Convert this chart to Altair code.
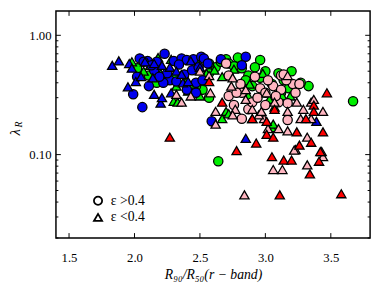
import altair as alt
import pandas as pd

# ---- data ----
blue_circ_x = [2.04, 2.10, 2.17, 2.23, 2.30, 2.36, 2.40, 2.45, 2.51, 2.53, 2.66, 2.85, 2.82,
               1.99, 2.06, 2.11, 2.59, 2.47, 2.27, 2.02, 2.15, 2.22, 2.32, 2.38, 2.44, 2.49,
               2.47, 2.40, 2.52, 2.25, 2.19, 2.07, 2.13, 2.34, 2.56]
blue_circ_y = [0.64, 0.61, 0.60, 0.70, 0.61, 0.64, 0.62, 0.63, 0.66, 0.64, 0.63, 0.66, 0.56,
               0.32, 0.25, 0.375, 0.19, 0.33, 0.42, 0.45, 0.51, 0.40, 0.41, 0.47, 0.51, 0.54,
               0.40, 0.35, 0.42, 0.48, 0.45, 0.60, 0.56, 0.57, 0.58]
blue_tri_x = [1.83, 1.88, 1.96, 1.98, 1.95, 2.01, 2.05, 2.14, 2.15, 2.20, 2.21, 2.27, 2.21,
              2.32, 2.36, 2.37, 2.41, 2.28, 2.85, 3.39, 2.43, 2.50, 2.15, 2.08]
blue_tri_y = [0.56, 0.61, 0.58, 0.53, 0.37, 0.41, 0.45, 0.44, 0.32, 0.27, 0.30, 0.54, 0.56,
              0.50, 0.47, 0.40, 0.41, 0.33, 0.137, 0.19, 0.61, 0.54, 0.58, 0.60]
green_circ_x = [2.64, 3.67, 2.96, 2.79, 2.70, 3.33, 3.14, 3.00, 2.92, 2.87, 2.72, 2.62, 2.57,
                2.52, 2.57, 3.05, 3.20, 3.12, 2.02, 2.11, 2.17, 2.47, 2.82, 3.10, 2.90, 2.57,
                2.85, 2.96, 3.18, 2.76, 2.66, 2.30, 3.27]
green_circ_y = [0.088, 0.28, 0.62, 0.65, 0.63, 0.375, 0.42, 0.50, 0.54, 0.46, 0.58, 0.54, 0.48,
                0.35, 0.30, 0.39, 0.50, 0.33, 0.53, 0.46, 0.40, 0.375, 0.53, 0.48, 0.375, 0.58,
                0.42, 0.44, 0.36, 0.55, 0.60, 0.44, 0.40]
green_tri_x = [2.18, 2.28, 2.47, 1.98, 2.07, 2.20, 2.30, 2.33, 2.41, 2.50, 2.55, 2.61, 2.67,
               2.76, 2.98, 3.13, 3.19, 2.92, 3.03, 2.70, 2.67, 2.90, 3.05, 3.07, 2.88, 2.87,
               3.06, 2.40, 2.32, 2.25, 2.45, 2.72, 2.12]
green_tri_y = [0.65, 0.63, 0.62, 0.60, 0.50, 0.48, 0.28, 0.275, 0.34, 0.31, 0.48, 0.51, 0.45,
               0.52, 0.48, 0.31, 0.31, 0.30, 0.29, 0.23, 0.20, 0.20, 0.168, 0.25, 0.39, 0.31,
               0.18, 0.42, 0.375, 0.44, 0.39, 0.22, 0.56]
pink_circ_x = [2.72, 2.81, 2.72, 2.76, 2.82, 2.87, 2.96, 3.00, 3.06, 3.12, 3.17, 3.21, 3.26,
               3.23, 3.17, 3.12, 3.10, 2.90, 2.82, 3.00, 3.16, 3.02, 2.92, 2.78, 2.70, 3.14,
               2.94, 3.08]
pink_circ_y = [0.46, 0.39, 0.31, 0.26, 0.20, 0.24, 0.36, 0.26, 0.375, 0.46, 0.27, 0.39, 0.39,
               0.33, 0.195, 0.35, 0.275, 0.275, 0.33, 0.33, 0.42, 0.42, 0.45, 0.33, 0.58, 0.47,
               0.30, 0.31]
pink_tri_x = [2.85, 2.84, 3.06, 3.13, 3.32, 3.44, 3.23, 3.43, 3.32, 3.22, 3.02, 3.10, 3.17,
              3.35, 3.27, 3.44, 3.17, 3.24, 3.35, 3.37, 3.07, 2.99, 2.95, 2.90, 2.77, 2.62,
              2.62, 2.75, 2.75, 3.17, 2.57, 2.50, 2.58, 2.43, 2.32, 2.36, 2.97, 2.74, 2.85,
              3.29, 3.01]
pink_tri_y = [0.29, 0.046, 0.075, 0.075, 0.082, 0.096, 0.11, 0.106, 0.14, 0.109, 0.165, 0.165,
              0.158, 0.20, 0.20, 0.23, 0.23, 0.275, 0.275, 0.29, 0.275, 0.20, 0.215, 0.24, 0.24,
              0.18, 0.23, 0.44, 0.215, 0.46, 0.46, 0.50, 0.33, 0.31, 0.32, 0.275, 0.23, 0.375,
              0.35, 0.24, 0.33]
red_tri_x = [2.27, 2.57, 2.67, 2.90, 2.93, 2.78, 3.01, 3.07, 3.01, 3.06, 3.11, 3.05, 3.14,
             3.20, 3.24, 3.26, 3.31, 3.37, 3.47, 3.44, 3.35, 3.42, 3.41, 3.34, 3.58, 3.37]
red_tri_y = [0.14, 0.41, 0.275, 0.20, 0.125, 0.108, 0.19, 0.24, 0.148, 0.14, 0.046, 0.096,
             0.09, 0.09, 0.155, 0.12, 0.20, 0.26, 0.33, 0.155, 0.127, 0.106, 0.088, 0.069,
             0.047, 0.23]

legend_labels = ["ε >0.4", "ε <0.4"]
group_colors = {"green": "#00ee00", "blue": "#0000ee", "pink": "#ffb6c1", "red": "#ff0000"}

x_ticks = [1.5, 2.0, 2.5, 3.0, 3.5]
y_major = [0.1, 1.0]
y_minor = [0.02, 0.03, 0.04, 0.05, 0.06, 0.07, 0.08, 0.09,
           0.2, 0.3, 0.4, 0.5, 0.6, 0.7, 0.8, 0.9]

# ---- build table ----
rows = []
def add(xs, ys, grp, eps):
    for a, b in zip(xs, ys):
        rows.append({"x": a, "y": b, "grp": grp, "eps": eps})

add(green_circ_x, green_circ_y, "green", legend_labels[0])
add(green_tri_x, green_tri_y, "green", legend_labels[1])
add(blue_circ_x, blue_circ_y, "blue", legend_labels[0])
add(blue_tri_x, blue_tri_y, "blue", legend_labels[1])
add(pink_circ_x, pink_circ_y, "pink", legend_labels[0])
add(pink_tri_x, pink_tri_y, "pink", legend_labels[1])
add(red_tri_x, red_tri_y, "red", legend_labels[1])
df = pd.DataFrame(rows)

W, H = 321, 232
FONT = "Liberation Serif"

xs = alt.Scale(domain=[1.4, 3.8], nice=False, zero=False)
ys = alt.Scale(type="log", domain=[0.02, 1.6], nice=False)
xaxis = alt.Axis(values=x_ticks, format=".1f", title="R₉₀/R₅₀(r − band)", grid=False,
                 domain=False, ticks=False, labelPadding=14, titlePadding=3,
                 titleFontStyle="italic", titleFontWeight="normal")
yaxis = alt.Axis(values=y_major, format=".2f", title=None, grid=False,
                 domain=False, ticks=False, labelPadding=5)

points = alt.Chart(df).mark_point(filled=True, stroke="black", strokeWidth=1.3, opacity=1, size=90).encode(
    x=alt.X("x:Q", scale=xs, axis=xaxis),
    y=alt.Y("y:Q", scale=ys, axis=yaxis),
    color=alt.Color("grp:N", scale=alt.Scale(domain=list(group_colors.keys()),
                                             range=list(group_colors.values())), legend=None),
    shape=alt.Shape("eps:N", scale=alt.Scale(domain=legend_labels, range=["circle", "triangle-up"]),
                    legend=alt.Legend(title=None, orient="none", legendX=36, legendY=187,
                                      symbolFillColor="white", symbolStrokeColor="black",
                                      symbolStrokeWidth=1.8, symbolSize=70, labelFontSize=14,
                                      labelFont=FONT, labelColor="black", rowPadding=1,
                                      symbolOffset=0, labelOffset=6)),
)

xt = pd.DataFrame({"x": x_ticks})
ymaj = pd.DataFrame({"y": y_major})
ymin = pd.DataFrame({"y": y_minor})

def xrule(y0, y1):
    return alt.Chart(xt).mark_rule(color="black", strokeWidth=1).encode(
        x=alt.X("x:Q", scale=xs, axis=xaxis), y=alt.value(y0), y2=alt.value(y1))

def yrule(d, x0, x1):
    return alt.Chart(d).mark_rule(color="black", strokeWidth=1).encode(
        y=alt.Y("y:Q", scale=ys, axis=yaxis), x=alt.value(x0), x2=alt.value(x1))

lam = alt.Chart(pd.DataFrame({"t": ["λ"]})).mark_text(
    angle=270, font=FONT, fontSize=15, fontStyle="italic", color="black").encode(
    text="t:N", x=alt.value(-42), y=alt.value(124))
lamR = alt.Chart(pd.DataFrame({"t": ["R"]})).mark_text(
    angle=270, font=FONT, fontSize=10, fontStyle="italic", color="black").encode(
    text="t:N", x=alt.value(-38), y=alt.value(116))

chart = alt.layer(
    points,
    xrule(H, H - 5), xrule(0, 5),
    yrule(ymaj, 0, 5), yrule(ymaj, W, W - 5),
    yrule(ymin, 0, 2.5), yrule(ymin, W, W - 2.5),
    lam, lamR,
).properties(
    width=W, height=H,
    autosize=alt.AutoSizeParams(type="none"),
    padding={"left": 49, "top": 0, "right": 4, "bottom": 44},
    background="white",
).configure_view(
    stroke="black", strokeWidth=1.5
).configure_axis(
    labelFont=FONT, titleFont=FONT, labelFontSize=13, titleFontSize=14,
    labelColor="black", titleColor="black"
).configure_legend(
    labelFont=FONT, labelFontSize=14, labelColor="black"
)

chart.save("out.html", embed_options={"renderer": "svg", "actions": False})
